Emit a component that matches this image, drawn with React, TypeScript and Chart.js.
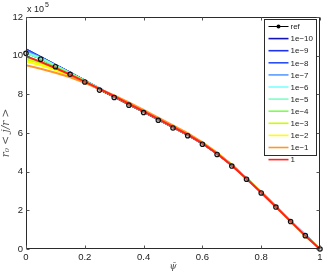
import React, { useEffect, useRef } from "react";
import { Chart, registerables } from "chart.js";

Chart.register(...registerables);

// x values (psi bar)
const psiValues = [0, 0.05, 0.1, 0.15, 0.2, 0.25, 0.3, 0.35, 0.4, 0.45, 0.5, 0.55, 0.6, 0.65, 0.7, 0.75, 0.8, 0.85, 0.9, 0.95, 1];

// values in units of 1e5
const refValues = [10.12, 9.82, 9.43, 9.04, 8.64, 8.22, 7.84, 7.44, 7.06, 6.66, 6.26, 5.86, 5.42, 4.89, 4.29, 3.61, 2.9, 2.17, 1.42, 0.69, 0];
const s1e10 = [10.33, 9.93, 9.52, 9.12, 8.71, 8.3, 7.91, 7.52, 7.13, 6.73, 6.33, 5.93, 5.48, 4.95, 4.34, 3.65, 2.94, 2.2, 1.45, 0.71, 0];
const s1e9 = [10.32, 9.92, 9.52, 9.12, 8.71, 8.3, 7.91, 7.52, 7.13, 6.73, 6.33, 5.93, 5.48, 4.95, 4.34, 3.65, 2.94, 2.2, 1.45, 0.71, 0];
const s1e8 = [10.3, 9.92, 9.51, 9.11, 8.71, 8.3, 7.91, 7.52, 7.13, 6.73, 6.33, 5.93, 5.48, 4.95, 4.34, 3.65, 2.94, 2.2, 1.45, 0.71, 0];
const s1e7 = [10.24, 9.9, 9.5, 9.11, 8.7, 8.3, 7.91, 7.52, 7.13, 6.73, 6.33, 5.93, 5.48, 4.95, 4.34, 3.65, 2.94, 2.2, 1.45, 0.71, 0];
const s1e6 = [10.16, 9.88, 9.49, 9.1, 8.7, 8.29, 7.9, 7.51, 7.12, 6.72, 6.32, 5.92, 5.47, 4.94, 4.33, 3.64, 2.93, 2.19, 1.44, 0.7, 0];
const s1e5 = [10.12, 9.86, 9.48, 9.09, 8.69, 8.29, 7.9, 7.51, 7.12, 6.72, 6.32, 5.92, 5.47, 4.94, 4.33, 3.64, 2.93, 2.19, 1.44, 0.7, 0];
const s1e4 = [9.92, 9.7, 9.42, 9.07, 8.69, 8.29, 7.91, 7.52, 7.13, 6.74, 6.34, 5.94, 5.49, 4.96, 4.35, 3.65, 2.94, 2.2, 1.45, 0.7, 0];
const s1e3 = [9.82, 9.6, 9.34, 9.02, 8.66, 8.28, 7.92, 7.53, 7.14, 6.75, 6.35, 5.95, 5.5, 4.97, 4.35, 3.65, 2.94, 2.2, 1.45, 0.7, 0];
const s1e2 = [9.7, 9.5, 9.26, 8.96, 8.62, 8.27, 7.93, 7.55, 7.17, 6.77, 6.37, 5.97, 5.51, 4.97, 4.35, 3.65, 2.94, 2.19, 1.44, 0.69, 0];
const s1e1 = [9.5, 9.32, 9.12, 8.88, 8.6, 8.27, 7.95, 7.58, 7.2, 6.8, 6.4, 5.99, 5.52, 4.98, 4.35, 3.64, 2.93, 2.18, 1.43, 0.68, 0];
const s1 = [9.97, 9.68, 9.36, 9.02, 8.66, 8.28, 7.9, 7.51, 7.12, 6.72, 6.32, 5.92, 5.46, 4.93, 4.32, 3.63, 2.92, 2.18, 1.43, 0.69, 0];

const seriesLabels = ["1e\u221210", "1e\u22129", "1e\u22128", "1e\u22127", "1e\u22126", "1e\u22125", "1e\u22124", "1e\u22123", "1e\u22122", "1e\u22121", "1"];
const seriesValues = [s1e10, s1e9, s1e8, s1e7, s1e6, s1e5, s1e4, s1e3, s1e2, s1e1, s1];
const seriesColors = ["#1414b4", "#1e32f0", "#2850f5", "#5a9bff", "#7dffff", "#7dffc8", "#7dff50", "#c8ff00", "#ffff00", "#ff9628", "#ff2020"];

const xTicks = [0, 0.2, 0.4, 0.6, 0.8, 1];
const yTicks = [0, 2, 4, 6, 8, 10, 12];

const FONT = "'Liberation Sans', Arial, Helvetica, sans-serif";
const MARKER_OVERLAY = "__refMarkers";

const framePlugin = {
  id: "matlabFrame",
  afterDatasetsDraw(chart: any) {
    const { ctx, chartArea: a, scales } = chart;
    const x = scales.x;
    const y = scales.y;
    ctx.save();
    ctx.strokeStyle = "#2b2b2b";
    ctx.lineWidth = 1;
    const L = Math.round(a.left) + 0.5;
    const R = Math.round(a.right) - 0.5;
    const T = Math.round(a.top) + 0.5;
    const B = Math.round(a.bottom) - 0.5;
    ctx.beginPath();
    ctx.moveTo(L, T);
    ctx.lineTo(R, T);
    ctx.lineTo(R, B);
    ctx.lineTo(L, B);
    ctx.closePath();
    ctx.stroke();
    ctx.strokeStyle = "#555";
    const tl = 3;
    ctx.beginPath();
    xTicks.forEach((v) => {
      const px = Math.round(x.getPixelForValue(v)) + 0.5;
      ctx.moveTo(px, B);
      ctx.lineTo(px, B - tl);
      ctx.moveTo(px, T);
      ctx.lineTo(px, T + tl);
    });
    yTicks.forEach((v) => {
      const py = Math.round(y.getPixelForValue(v)) + 0.5;
      ctx.moveTo(L, py);
      ctx.lineTo(L + tl, py);
      ctx.moveTo(R, py);
      ctx.lineTo(R - tl, py);
    });
    ctx.stroke();
    // exponent multiplier
    ctx.fillStyle = "#222";
    ctx.textBaseline = "alphabetic";
    ctx.textAlign = "left";
    ctx.font = `9px ${FONT}`;
    ctx.fillText("x 10", a.left + 1, a.top - 5);
    ctx.font = `7px ${FONT}`;
    ctx.fillText("5", a.left + 19, a.top - 10);

    // legend (entries in dataset order)
    const datasets = chart.data.datasets.filter((d: any) => d.label !== MARKER_OVERLAY);
    const bx = 264.5;
    const by = 19.5;
    const bw = 52;
    const rowH = 12.1;
    const bh = 136;
    ctx.fillStyle = "#ffffff";
    ctx.fillRect(bx, by, bw, bh);
    ctx.strokeStyle = "#2b2b2b";
    ctx.lineWidth = 1;
    ctx.strokeRect(bx, by, bw, bh);
    ctx.font = `8px ${FONT}`;
    ctx.textBaseline = "middle";
    datasets.forEach((ds: any, i: number) => {
      const yy = by + 7 + i * rowH;
      ctx.strokeStyle = ds.borderColor;
      ctx.lineWidth = i === 0 ? 1 : 1.6;
      ctx.beginPath();
      ctx.moveTo(bx + 4, yy);
      ctx.lineTo(bx + 24, yy);
      ctx.stroke();
      if (i === 0) {
        ctx.beginPath();
        ctx.arc(bx + 14, yy, 2, 0, Math.PI * 2);
        ctx.fillStyle = "#000";
        ctx.fill();
      }
      ctx.fillStyle = "#222";
      ctx.fillText(ds.label, bx + 26, yy + 0.5);
    });
    ctx.restore();
  },
};

export default function App() {
  const canvasRef = useRef<HTMLCanvasElement | null>(null);

  useEffect(() => {
    const canvas = canvasRef.current;
    if (!canvas) return;
    const datasets: any[] = [
      {
        label: "ref",
        data: psiValues.map((p, i) => ({ x: p, y: refValues[i] })),
        borderColor: "#000000",
        backgroundColor: "rgba(0,0,0,0)",
        borderWidth: 1,
        pointRadius: 0,
        order: 20,
      },
    ];
    seriesValues.forEach((vals, k) => {
      datasets.push({
        label: seriesLabels[k],
        data: psiValues.map((p, i) => ({ x: p, y: vals[i] })),
        borderColor: seriesColors[k],
        backgroundColor: seriesColors[k],
        borderWidth: 2,
        pointRadius: 0,
        order: 11 - k,
      });
    });
    // ref markers drawn on top of the coloured lines
    datasets.push({
      label: MARKER_OVERLAY,
      data: psiValues.map((p, i) => ({ x: p, y: refValues[i] })),
      showLine: false,
      borderColor: "#111",
      backgroundColor: "rgba(0,0,0,0)",
      pointRadius: 2.2,
      pointBorderWidth: 1.2,
      pointBorderColor: "#111",
      pointBackgroundColor: "rgba(140,140,140,0.35)",
      order: -1,
      clip: 5,
    });

    const chart = new Chart(canvas, {
      type: "line",
      data: { datasets },
      options: {
        responsive: false,
        animation: false,
        devicePixelRatio: 1,
        layout: { padding: { top: 17, right: 7, left: 0, bottom: 0 } },
        plugins: {
          legend: { display: false },
          tooltip: { enabled: false },
        },
        scales: {
          x: {
            type: "linear",
            min: 0,
            max: 1,
            afterBuildTicks: (s: any) => {
              s.ticks = xTicks.map((v) => ({ value: v }));
            },
            afterFit: (s: any) => {
              s.height = 25;
            },
            grid: { display: false, drawTicks: false },
            border: { display: false },
            ticks: {
              padding: 3,
              color: "#222",
              font: { family: FONT, size: 9.5 },
              callback: (v: any) => String(Math.round(Number(v) * 10) / 10),
              maxRotation: 0,
            },
            title: {
              display: true,
              text: "\u03C8\u0304",
              color: "#444",
              font: { family: "'DejaVu Serif', serif", size: 9, style: "italic" },
              padding: { top: 0, bottom: 2 },
            },
          },
          y: {
            type: "linear",
            min: 0,
            max: 12,
            afterBuildTicks: (s: any) => {
              s.ticks = yTicks.map((v) => ({ value: v }));
            },
            afterFit: (s: any) => {
              s.width = 26;
            },
            grid: { display: false, drawTicks: false },
            border: { display: false },
            ticks: {
              padding: 3,
              color: "#222",
              font: { family: FONT, size: 9.5 },
            },
            title: {
              display: true,
              text: "r\u2080 < j/r >",
              color: "#555",
              font: { family: "'DejaVu Serif', serif", size: 10.5, style: "italic" },
              padding: { top: 0, bottom: 0 },
            },
          },
        },
      },
      plugins: [framePlugin],
    } as any);
    return () => chart.destroy();
  }, []);

  return (
    <div style={{ position: "absolute", left: 0, top: 0, width: 327, height: 274, background: "#fff" }}>
      <canvas ref={canvasRef} width={327} height={274} style={{ display: "block" }} />
    </div>
  );
}
